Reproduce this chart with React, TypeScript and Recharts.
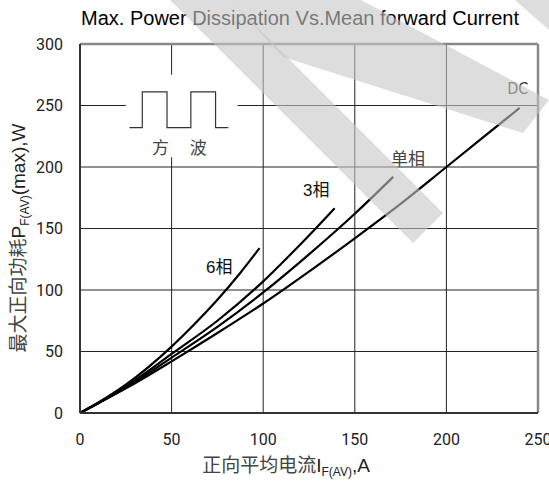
import {
  LineChart,
  Line,
  XAxis,
  YAxis,
  CartesianGrid,
  ReferenceArea,
  ReferenceLine,
  ReferenceDot,
} from 'recharts';

const xTicks = [0, 50, 100, 150, 200, 250];
const yTicks = [0, 50, 100, 150, 200, 250, 300];

// curves (current A, power W)
const sixPhaseX = [0, 10, 25, 50, 62, 75, 87, 98];
const sixPhaseY = [0, 8.5, 23, 54, 71.5, 92, 113, 134];
const threePhaseX = [0, 10, 25, 50, 75, 100, 115, 128, 139];
const threePhaseY = [0, 8, 21.5, 48, 75, 107, 129, 149, 166.5];
const singlePhaseX = [0, 10, 25, 50, 75, 100, 125, 150, 171];
const singlePhaseY = [0, 8, 20.5, 45, 70, 98, 129, 162, 192];
const dcX = [0, 10, 25, 50, 75, 100, 125, 150, 175, 200, 240];
const dcY = [0, 8, 20, 42, 65, 89, 115, 142, 170, 200, 248];

// square wave glyph in the inset
const waveX = [27, 34, 34, 47.5, 47.5, 60.5, 60.5, 74, 74, 81];
const waveY = [232, 232, 261, 261, 232, 232, 261, 261, 232, 232];

const curveLabels = [
  { text: '6相', x: 76, y: 118 },
  { text: '3相', x: 129, y: 181 },
  { text: '单相', x: 179, y: 206 },
  { text: 'DC', x: 239, y: 264 },
];
const insetLabels = [
  { text: '方', x: 44, y: 217 },
  { text: '波', x: 64.5, y: 217 },
];

const toPoints = (xs: number[], ys: number[]) => xs.map((x, i) => ({ x, y: ys[i] }));

const cjk = '"Noto Sans CJK SC", sans-serif';
const sans = '"Liberation Sans", Arial, sans-serif';

function CurveLabel({ cx, cy, text }: any) {
  const isLatin = text === 'DC';
  return (
    <text
      x={cx}
      y={cy}
      textAnchor="middle"
      dominantBaseline="central"
      fontSize={isLatin ? 16 : 17}
      fontFamily={isLatin ? '"DejaVu Sans Condensed", "DejaVu Sans", sans-serif' : `${sans}, ${cjk}`}
      fill={text === '单相' ? '#444' : isLatin ? '#333' : '#111'}
    >
      {text}
    </text>
  );
}

export default function App() {
  return (
    <div style={{ position: 'absolute', left: 0, top: 0, width: 549, height: 491, background: '#fff' }}>
      <LineChart width={549} height={491} margin={{ top: 44, right: 11, bottom: 0, left: 0 }}>
        <CartesianGrid stroke="#222" strokeWidth={1} />
        <XAxis
          dataKey="x"
          type="number"
          domain={[0, 250]}
          ticks={xTicks}
          height={78}
          axisLine={{ stroke: '#333', strokeWidth: 2 }}
          tickLine={false}
          tickSize={0}
          tickMargin={21}
          tick={{ fill: '#222', fontSize: 16, fontFamily: 'Roboto' }}
          interval={0}
          allowDataOverflow
        />
        <YAxis
          dataKey="y"
          type="number"
          domain={[0, 300]}
          ticks={yTicks}
          width={80}
          axisLine={{ stroke: '#333', strokeWidth: 2 }}
          tickLine={false}
          tickSize={0}
          tickMargin={17}
          tick={{ fill: '#222', fontSize: 16, fontFamily: 'Roboto' }}
          interval={0}
        />
        <ReferenceLine y={300} stroke="#888" strokeWidth={2.5} />
        <ReferenceLine x={250} stroke="#888" strokeWidth={2.5} />
        <ReferenceArea x1={25} x2={86} y1={208} y2={275} fill="#fff" fillOpacity={1} stroke="none" />
        <Line
          data={toPoints(waveX, waveY)}
          dataKey="y"
          type="linear"
          stroke="#333"
          strokeWidth={1.2}
          dot={false}
          isAnimationActive={false}
        />
        <Line data={toPoints(sixPhaseX, sixPhaseY)} dataKey="y" type="monotone" stroke="#000" strokeWidth={2.2} dot={false} isAnimationActive={false} />
        <Line data={toPoints(threePhaseX, threePhaseY)} dataKey="y" type="monotone" stroke="#000" strokeWidth={2.2} dot={false} isAnimationActive={false} />
        <Line data={toPoints(singlePhaseX, singlePhaseY)} dataKey="y" type="monotone" stroke="#000" strokeWidth={2.2} dot={false} isAnimationActive={false} />
        <Line data={toPoints(dcX, dcY)} dataKey="y" type="monotone" stroke="#000" strokeWidth={2.2} dot={false} isAnimationActive={false} />
        {insetLabels.map((l) => (
          <ReferenceDot
            key={l.text}
            x={l.x}
            y={l.y}
            r={0}
            shape={(p: any) => (
              <text x={p.cx} y={p.cy} textAnchor="middle" dominantBaseline="central" fontSize={17} fontFamily={cjk} fill="#444">
                {l.text}
              </text>
            )}
          />
        ))}
        {curveLabels.map((l) => (
          <ReferenceDot key={l.text} x={l.x} y={l.y} r={0} shape={(p: any) => <CurveLabel {...p} text={l.text} />} />
        ))}
      </LineChart>
      <svg width={549} height={491} style={{ position: 'absolute', left: 0, top: 0, pointerEvents: 'none' }}>
        <text x={300} y={25} textAnchor="middle" fontSize={20} fontFamily={sans} fill="#000">
          Max. Power Dissipation Vs.Mean forward Current
        </text>
        <text x={286} y={472} textAnchor="middle" fill="#222">
          <tspan fontFamily={cjk} fontSize={19} fill="#444">正向平均电流</tspan>
          <tspan fontFamily={sans} fontSize={19}>I</tspan>
          <tspan fontFamily={sans} fontSize={12} dy={4}>F(AV)</tspan>
          <tspan fontFamily={sans} fontSize={19} dy={-4}>,A</tspan>
        </text>
        <text x={0} y={0} textAnchor="middle" fill="#222" transform="translate(25,238) rotate(-90)">
          <tspan fontFamily={cjk} fontSize={19} fill="#444">最大正向功耗</tspan>
          <tspan fontFamily={sans} fontSize={19}>P</tspan>
          <tspan fontFamily={sans} fontSize={12} dy={4}>F(AV)</tspan>
          <tspan fontFamily={sans} fontSize={19} dy={-4}>(max),W</tspan>
        </text>
        <g fill="rgb(198,198,198)" fillOpacity={0.6}>
          <polygon points="170,0 230,0 443,213 413,243" />
          <polygon points="230,0 361,0 549,100 523,133 283,57" />
          <polygon points="515,0 549,0 549,30" />
        </g>
      </svg>
    </div>
  );
}
